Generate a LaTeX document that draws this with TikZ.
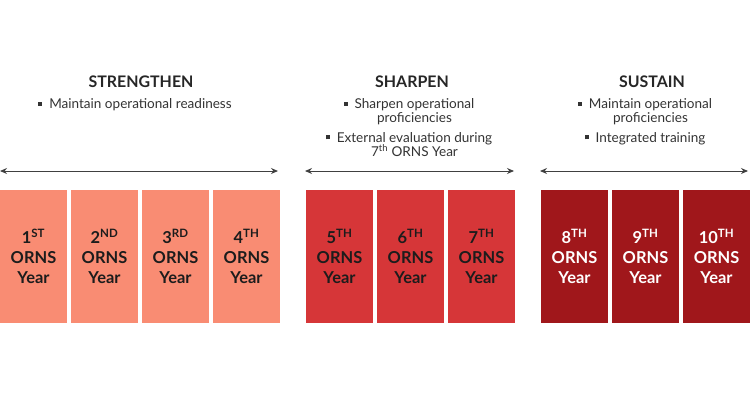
\documentclass[tikz,border=0pt]{standalone}
\usepackage{fontspec}
\setmainfont{Lato}
\usetikzlibrary{positioning, arrows.meta}
\definecolor{cSTR}{HTML}{F98C73}
\definecolor{cSHA}{HTML}{D63638}
\definecolor{cSUS}{HTML}{A0171B}
\definecolor{cTXT}{HTML}{1C1C1C}
\tikzset{
  yearbox/.style={
    fill=#1,
    inner sep=0pt,
    outer sep=0pt,
    minimum width=67bp,
    minimum height=133bp,
    align=center,
    text=cTXT,
    font=\fontsize{16.5}{20}\selectfont\bfseries
  },
  phase/.style={
    font=\fontsize{16}{18}\selectfont\bfseries,
    text=black!85,
    inner sep=0pt
  },
  points/.style={
    font=\fontsize{13.6}{14.5}\selectfont,
    text=black!80,
    align=center,
    inner sep=0pt
  },
  span/.style={
    {Stealth[length=7pt,width=6pt]}-{Stealth[length=7pt,width=6pt]},
    line width=1pt,
    draw=black!75
  }
}
\newcommand{\ybox}[2]{#1\textsuperscript{#2}\\ORNS\\Year}
\newcommand{\bitem}[1]{%
  \begin{tabular}[t]{@{}l@{\hspace{7pt}}c@{}}%
    \raisebox{2.8pt}{\rule{4pt}{4pt}} & #1%
  \end{tabular}%
}

\begin{document}
\begin{tikzpicture}[x=1bp, y=-1bp, node distance=4bp]
  \useasboundingbox (0,0) rectangle (750,400);

  % year boxes
  \node[yearbox=cSTR, anchor=north west] (y1) at (0,190) {\ybox{1}{ST}};
  \node[yearbox=cSTR, right=of y1] (y2) {\ybox{2}{ND}};
  \node[yearbox=cSTR, right=of y2] (y3) {\ybox{3}{RD}};
  \node[yearbox=cSTR, right=of y3] (y4) {\ybox{4}{TH}};
  \node[yearbox=cSHA, right=26bp of y4] (y5) {\ybox{5}{TH}};
  \node[yearbox=cSHA, right=of y5] (y6) {\ybox{6}{TH}};
  \node[yearbox=cSHA, right=of y6] (y7) {\ybox{7}{TH}};
  \node[yearbox=cSUS, text=white, right=26bp of y7] (y8) {\ybox{8}{TH}};
  \node[yearbox=cSUS, text=white, right=of y8] (y9) {\ybox{9}{TH}};
  \node[yearbox=cSUS, text=white, right=of y9] (y10) {\ybox{10}{TH}};

  % phase headings and points
  \node[phase] (strT) at (141,82) {STRENGTHEN};
  \node[phase] (shaT) at (412,82) {SHARPEN};
  \node[phase] (susT) at (652,82) {SUSTAIN};
  \node[points, anchor=north] (strP) at (135,98) {\bitem{Maintain operational readiness}};
  \node[points, anchor=north] (shaP) at (409,98) {%
    \bitem{Sharpen operational\\ & proficiencies}\\[4pt]
    \bitem{External evaluation during\\ & 7\smash{\textsuperscript{th}} ORNS Year}};
  \node[points, anchor=north] (susP) at (645,98) {%
    \bitem{Maintain operational\\ & proficiencies}\\[4pt]
    \bitem{Integrated training}};

  % spans
  \coordinate (s1a) at ([yshift=19bp]y1.north west);
  \coordinate (s1b) at ([yshift=19bp,xshift=-2bp]y4.north east);
  \coordinate (s2a) at ([yshift=19bp,xshift=-1bp]y5.north west);
  \coordinate (s2b) at ([yshift=19bp,xshift=-1bp]y7.north east);
  \coordinate (s3a) at ([yshift=19bp,xshift=-1bp]y8.north west);
  \coordinate (s3b) at ([yshift=19bp,xshift=-2bp]y10.north east);
  \draw[span] (s1a) -- (s1b);
  \draw[span] (s2a) -- (s2b);
  \draw[span] (s3a) -- (s3b);
\end{tikzpicture}
\end{document}
